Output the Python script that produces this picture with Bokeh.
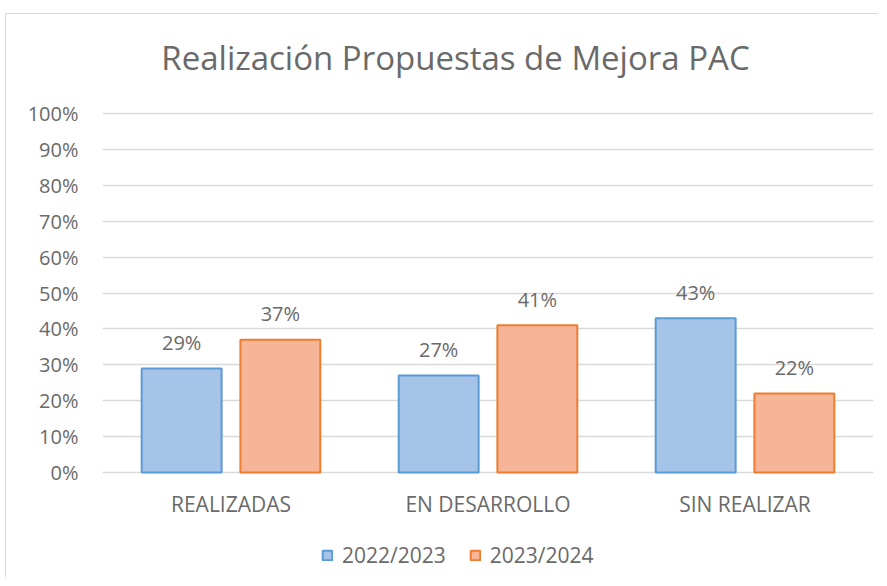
from bokeh.plotting import figure
from bokeh.models import (ColumnDataSource, FactorRange, Range1d, FixedTicker,
                          NumeralTickFormatter, Legend, LegendItem, Label)
from bokeh.transform import dodge
from bokeh.core.properties import value
from bokeh.embed import file_html
from bokeh.resources import INLINE

categories = ["REALIZADAS", "EN DESARROLLO", "SIN REALIZAR"]
series_names = ["2022/2023", "2023/2024"]
values_2022 = [0.29, 0.27, 0.43]
values_2023 = [0.37, 0.41, 0.22]
y_ticks = [0.0, 0.1, 0.2, 0.3, 0.4, 0.5, 0.6, 0.7, 0.8, 0.9, 1.0]
title_text = "Realización Propuestas de Mejora PAC"

FONT = "Open Sans"
TEXT = "#6a6a6a"

src = ColumnDataSource(data=dict(
    cat=categories,
    zero=[0.0] * len(categories),
    v1=values_2022,
    v2=values_2023,
    l1=[f"{round(v * 100)}%" for v in values_2022],
    l2=[f"{round(v * 100)}%" for v in values_2023],
))

W, H = 873, 564
PX = 359.0  # pixels per 100 %
p = figure(width=W, height=H, x_range=FactorRange(*categories),
           y_range=Range1d(-106 / PX, 1 + 99 / PX),
           x_axis_location=None, output_backend="svg", toolbar_location=None,
           min_border_left=96, min_border_right=6, min_border_top=0,
           min_border_bottom=0)
p.margin = (13, 0, 0, 5)
p.styles = {"border-top": "1px solid #d9d9d9", "border-left": "1px solid #d9d9d9"}
p.outline_line_color = None
p.background_fill_color = "white"
p.border_fill_color = "white"

p.xgrid.grid_line_color = None
p.ygrid.grid_line_color = "#d9d9d9"
p.ygrid.grid_line_width = 1.5

b1 = p.vbar(x=dodge("cat", -0.192, range=p.x_range), top="v1", width=0.311,
            source=src, fill_color="#a6c3e8", line_color="#5b9bd5", line_width=2)
b2 = p.vbar(x=dodge("cat", 0.192, range=p.x_range), top="v2", width=0.311,
            source=src, fill_color="#f5b596", line_color="#ed7d31", line_width=2)

for col, lab, off in (("v1", "l1", -0.192), ("v2", "l2", 0.192)):
    p.text(x=dodge("cat", off, range=p.x_range), y=col, text=lab, source=src,
           text_align="center", text_baseline="middle", y_offset=-26,
           text_font=value(FONT), text_font_size="20px", text_color=TEXT)

p.text(x="cat", y="zero", text="cat", source=src, text_align="center",
       text_baseline="middle", y_offset=31, text_font=value(FONT),
       text_font_size="21px", text_color=TEXT)

p.yaxis.ticker = FixedTicker(ticks=y_ticks)
p.yaxis.formatter = NumeralTickFormatter(format="0%")
p.yaxis.axis_line_color = None
p.yaxis.major_tick_line_color = None
p.yaxis.minor_tick_line_color = None
p.yaxis.major_label_standoff = 18
p.yaxis.major_label_text_font = FONT
p.yaxis.major_label_text_font_size = "20px"
p.yaxis.major_label_text_color = TEXT

p.add_layout(Label(x=(455 - 102) / 257.0, y=(472 - 57) / PX, text=title_text,
                   text_align="center", text_baseline="middle",
                   text_font=FONT, text_font_size="33px", text_color=TEXT))

legend = Legend(items=[LegendItem(label=series_names[0], renderers=[b1]),
                       LegendItem(label=series_names[1], renderers=[b2])],
                orientation="horizontal", location=(219, 9),
                glyph_width=12, glyph_height=12, label_standoff=9, spacing=23,
                padding=0, margin=0, border_line_color=None,
                background_fill_alpha=0, label_text_font=FONT,
                label_text_font_size="21px", label_text_color=TEXT,
                label_height=20)
p.add_layout(legend, "center")

open("out.html", "w").write(file_html(p, INLINE))
